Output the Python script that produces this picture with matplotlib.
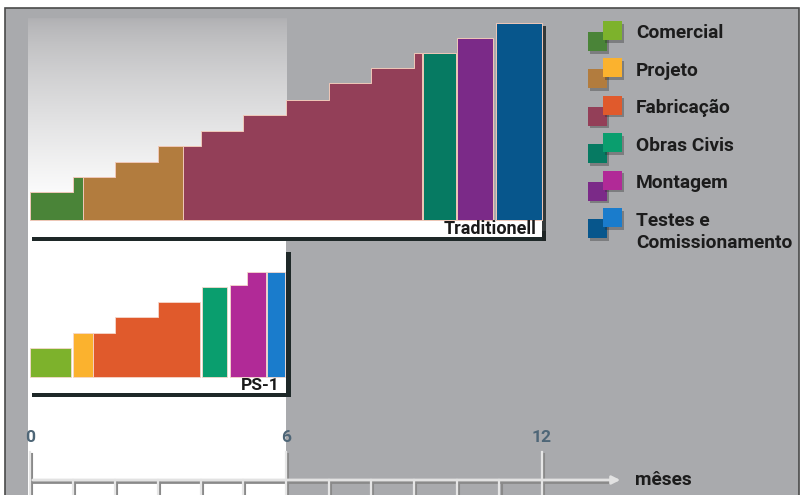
import matplotlib.pyplot as plt
import numpy as np
from matplotlib.patches import Rectangle

plt.rcParams['font.family'] = ['Roboto', 'DejaVu Sans']

# fases do projeto
phases = ['Comercial', 'Projeto', 'Fabricação', 'Obras Civis', 'Montagem', 'Testes e\nComissionamento']

# Traditionell: inicio/fim dos degraus (meses) e alturas
trad_x = [[0, 1, 1.24], [1.24, 2, 3, 3.59], [3.59, 4, 5, 6, 7, 8, 9, 9.18],
          [9.21, 9.98], [10.0, 10.85], [10.92, 12.0]]
trad_h = [[28, 43], [43, 58, 74], [74, 89, 105, 120, 137, 152, 167], [167], [182], [197]]
trad_colors = ['#4a8438', '#b27c3e', '#933f58', '#067a62', '#7b2a88', '#07568c']

# PS-1
ps_x = [[0, 0.97], [1.0, 1.48], [1.48, 2, 3, 3.98], [4.03, 4.62], [4.68, 5.08, 5.52], [5.56, 5.98]]
ps_h = [[29], [44], [44, 60, 75], [90], [92, 105], [105]]
ps_colors = ['#7db22c', '#fbb22e', '#e05a2c', '#0a9e6e', '#b12a97', '#1a7ccc']

month_ticks = list(range(13))
month_labels = {0: '0', 6: '6', 12: '12'}

W, H = 804, 495
X0, PX = 30, 42.67   # pixel of month 0, pixels per month
BG = '#a9aaad'

fig = plt.figure(figsize=(W / 100, H / 100), dpi=100)
fig.patch.set_facecolor('white')

# background + legend (pixel coords)
ax_bg = fig.add_axes([0, 0, 1, 1])
ax_bg.set_xlim(0, W)
ax_bg.set_ylim(H, 0)
ax_bg.axis('off')
ax_bg.add_patch(Rectangle((5, 8), 794, 490, facecolor=BG, edgecolor='#4a4a4a', lw=1.2))

for i, name in enumerate(phases):
    yc = 34 + i * 37.4
    ax_bg.add_patch(Rectangle((590, yc + 0.5), 19, 19, fc='#2a2a2a', alpha=0.35, lw=0))
    ax_bg.add_patch(Rectangle((588, yc - 2), 19, 19, fc=trad_colors[i], lw=0))
    ax_bg.add_patch(Rectangle((605, yc - 10.5), 19, 19, fc='#2a2a2a', alpha=0.35, lw=0))
    ax_bg.add_patch(Rectangle((603, yc - 13), 19, 19, fc=ps_colors[i], lw=0))
    ax_bg.text(636, yc - 9.5, name, ha='left', va='top', fontsize=13.8, fontweight='bold',
               color='#1c1c1c', linespacing=1.35)

# timeline axes (x in months)
ax_t = fig.add_axes([0, 0, 1, 1])
ax_t.axis('off')
ax_t.add_patch(Rectangle((-0.05, 200), 6.05, 300, fc='white', lw=0))
grad_y = np.linspace(0, 1, 200)
g0 = np.array([0.69, 0.69, 0.70])
grad = g0 + (1 - g0) * (grad_y ** 0.75)[:, None]
ax_t.imshow(grad[:, None, :], extent=(-0.05, 6.0, 205, 18), origin='upper', aspect='auto')
ax_t.set_xlim(-X0 / PX, (W - X0) / PX)
ax_t.set_ylim(H, 0)

ax_t.plot([0, 13.6], [482, 482], color='#8a8a8a', lw=2, solid_capstyle='butt')
ax_t.annotate('', xy=(13.9, 480), xytext=(0, 480),
              arrowprops=dict(arrowstyle='-|>', color='#e2e2e2', lw=2, mutation_scale=12))
for m in month_ticks:
    top = 452 if m in month_labels else 480
    ax_t.plot([m + 0.05, m + 0.05], [top + 2, 495], color='#8a8a8a', lw=1.5)
    ax_t.plot([m, m], [top, 495], color='#e6e6e6', lw=1.6)
for m, lab in month_labels.items():
    ax_t.text(m, 437, lab, ha='center', va='center', fontsize=12.5, fontweight='bold', color='#4e6677')
ax_t.text((635 - X0) / PX, 480, 'mêses', ha='left', va='center', fontsize=13.8,
          fontweight='bold', color='#1c1c1c')

# Traditionell panel
ax_top = fig.add_axes([X0 / W, (H - 240) / H, 12 * PX / W, 220 / H])
ax_top.set_xlim(0, 12)
ax_top.set_ylim(-20, 200)
ax_top.axis('off')
ax_top.add_patch(Rectangle((0.04, -21), 12.06, 10, fc='#1e2828', lw=0, clip_on=False))
ax_top.add_patch(Rectangle((12.0, -21), 0.1, 215, fc='#1e2424', alpha=0.85, lw=0, clip_on=False))
ax_top.add_patch(Rectangle((-0.05, -17), 12.05, 17, fc='white', lw=0, clip_on=False))
for xs, hs, c in zip(trad_x, trad_h, trad_colors):
    ax_top.fill_between(xs, hs + [hs[-1]], 0, step='post', facecolor=c, edgecolor='#f0c8b8', lw=0.7)
ax_top.text(11.88, -8.5, 'Traditionell', ha='right', va='center', fontsize=13,
            fontweight='bold', color='#1a1a1a')

# PS-1 panel
ax_ps = fig.add_axes([X0 / W, (H - 400) / H, 6 * PX / W, 152 / H])
ax_ps.set_xlim(0, 6)
ax_ps.set_ylim(-23, 129)
ax_ps.axis('off')
ax_ps.add_patch(Rectangle((0.05, -20), 6.07, 145, fc='#1e2828', lw=0, clip_on=False))
ax_ps.add_patch(Rectangle((-0.05, -16), 6.05, 145, fc='white', lw=0, clip_on=False))
for xs, hs, c in zip(ps_x, ps_h, ps_colors):
    ax_ps.fill_between(xs, hs + [hs[-1]], 0, step='post', facecolor=c, edgecolor='#f6d8cc', lw=0.6)
ax_ps.text(5.86, -8, 'PS-1', ha='right', va='center', fontsize=12.5, fontweight='bold', color='#1a1a1a')

fig.savefig('out.png', dpi=100)
